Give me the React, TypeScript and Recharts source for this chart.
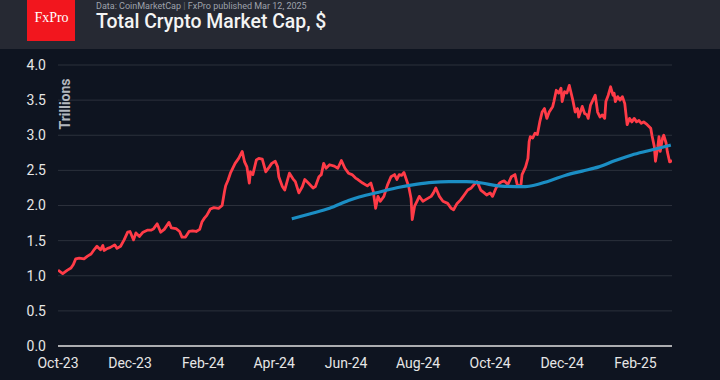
import React from 'react';
import { LineChart, Line, XAxis, YAxis, CartesianGrid } from 'recharts';

const START_DATE = '2023-10-01';

// Total crypto market cap, trillions $ (day offset from START_DATE)
const capDay = [
  0, 4, 8, 11, 13, 15, 18, 22, 25, 28,
  31, 33, 36, 38, 39, 42, 44, 48, 50, 53,
  56, 59, 61, 64, 66, 69, 72, 76, 79, 81,
  84, 87, 90, 94, 96, 100, 103, 105, 108, 111,
  114, 117, 120, 122, 124, 126, 129, 132, 136, 139,
  141, 142, 144, 146, 150, 153, 156, 158, 160, 162,
  163, 165, 168, 170, 173, 176, 179, 181, 184, 186,
  187, 190, 192, 194, 196, 199, 201, 204, 207, 209,
  212, 216, 218, 221, 223, 225, 227, 230, 234, 237,
  240, 243, 246, 249, 252, 254, 258, 262, 265, 267,
  269, 271, 273, 276, 279, 282, 285, 287, 289, 291,
  293, 295, 297, 299, 300, 302, 304, 306, 309, 311,
  316, 318, 320, 323, 326, 330, 333, 335, 338, 341,
  344, 347, 350, 352, 355, 358, 361, 363, 366, 368,
  371, 374, 376, 378, 381, 384, 387, 389, 392, 393,
  396, 398, 399, 400, 402, 404, 406, 408, 410, 412,
  414, 416, 419, 420, 422, 424, 426, 427, 429, 431,
  433, 434, 436, 438, 440, 441, 444, 446, 448, 449,
  451, 453, 455, 457, 459, 461, 463, 464, 466, 468,
  470, 471, 472, 474, 476, 478, 480, 482, 484, 486,
  488, 490, 492, 494, 496, 499, 502, 503, 505, 506,
  508, 509, 510, 512, 513, 515, 516, 518, 520,
];
const capValue = [
  1.08, 1.03, 1.08, 1.11, 1.16, 1.24, 1.25, 1.24, 1.28, 1.31,
  1.38, 1.42, 1.37, 1.43, 1.36, 1.39, 1.40, 1.44, 1.39, 1.42,
  1.51, 1.62, 1.63, 1.51, 1.61, 1.56, 1.62, 1.65, 1.65, 1.67,
  1.74, 1.62, 1.66, 1.76, 1.68, 1.67, 1.63, 1.55, 1.55, 1.63,
  1.64, 1.63, 1.66, 1.77, 1.82, 1.86, 1.95, 1.97, 1.96, 2.00,
  2.20, 2.28, 2.36, 2.46, 2.60, 2.67, 2.77, 2.62, 2.55, 2.32,
  2.48, 2.44, 2.65, 2.67, 2.66, 2.48, 2.55, 2.60, 2.63, 2.55,
  2.41, 2.27, 2.22, 2.34, 2.46, 2.38, 2.34, 2.18, 2.27, 2.37,
  2.32, 2.25, 2.27, 2.41, 2.44, 2.60, 2.53, 2.58, 2.56, 2.53,
  2.64, 2.53, 2.46, 2.44, 2.39, 2.37, 2.32, 2.28, 2.32, 2.20,
  1.96, 2.13, 2.06, 2.13, 2.29, 2.41, 2.44, 2.37, 2.44, 2.43,
  2.47, 2.37, 2.27, 2.10, 1.80, 1.99, 2.06, 2.13, 2.06, 2.08,
  2.13, 2.18, 2.25, 2.13, 2.06, 2.03, 1.96, 1.94, 2.03, 2.08,
  2.15, 2.22, 2.25, 2.29, 2.34, 2.22, 2.18, 2.15, 2.18, 2.13,
  2.25, 2.32, 2.34, 2.35, 2.30, 2.41, 2.44, 2.29, 2.28, 2.44,
  2.55, 2.67, 2.91, 2.98, 2.96, 3.03, 3.01, 3.19, 3.33, 3.38,
  3.24, 3.33, 3.41, 3.48, 3.64, 3.60, 3.67, 3.48, 3.62, 3.60,
  3.71, 3.64, 3.50, 3.33, 3.38, 3.26, 3.41, 3.31, 3.29, 3.24,
  3.43, 3.50, 3.57, 3.33, 3.26, 3.29, 3.24, 3.48, 3.57, 3.69,
  3.57, 3.60, 3.48, 3.55, 3.50, 3.55, 3.45, 3.15, 3.24, 3.19,
  3.24, 3.19, 3.21, 3.17, 3.19, 3.15, 3.10, 3.00, 2.84, 2.63,
  2.84, 2.98, 2.77, 2.96, 3.00, 2.89, 2.77, 2.62, 2.64,
];

// 200-day moving average, trillions $
const maDay = [198, 213, 230, 246, 255, 274, 289, 303, 317, 331, 346, 359, 373, 388, 396, 416, 430, 444, 458, 472, 486, 500, 519];
const maValue = [1.81, 1.88, 1.96, 2.07, 2.12, 2.20, 2.26, 2.30, 2.33, 2.34, 2.34, 2.32, 2.28, 2.27, 2.27, 2.35, 2.43, 2.49, 2.55, 2.64, 2.72, 2.78, 2.86];

const tickDates = ['2023-10-01', '2023-12-01', '2024-02-01', '2024-04-01', '2024-06-01', '2024-08-01', '2024-10-01', '2024-12-01', '2025-02-01'];
const tickLabels = ['Oct-23', 'Dec-23', 'Feb-24', 'Apr-24', 'Jun-24', 'Aug-24', 'Oct-24', 'Dec-24', 'Feb-25'];
const yTicks = [0, 0.5, 1, 1.5, 2, 2.5, 3, 3.5, 4];

const DAY_MS = 86400000;
const dayOffset = (d: string) => Math.round((Date.parse(d) - Date.parse(START_DATE)) / DAY_MS);
const xTicks = tickDates.map(dayOffset);
const capData = capDay.map((d, i) => ({ day: d, cap: capValue[i] }));
const maData = maDay.map((d, i) => ({ day: d, ma: maValue[i] }));

const FONT = 'Roboto, "Noto Sans", sans-serif';

export default function App() {
  return (
    <div style={{ position: 'fixed', left: 0, top: 0, width: 720, height: 380, background: '#0e1420', overflow: 'hidden', fontFamily: FONT }}>
      <div style={{ position: 'absolute', left: 0, top: 0, width: 720, height: 49, background: '#262933' }} />
      <div style={{ position: 'absolute', left: 27, top: 0, width: 48, height: 41, background: '#f2161e' }} />
      <div style={{ position: 'absolute', left: 27, top: 10, width: 49, textAlign: 'center', color: '#ffffff', fontFamily: '"Liberation Serif", serif', fontSize: 14, lineHeight: '16px' }}>FxPro</div>
      <div style={{ position: 'absolute', left: 96, top: 0, fontSize: 9, lineHeight: '12px', color: '#9ea2ab', whiteSpace: 'nowrap' }}>
        Data: CoinMarketCap <span style={{ color: '#6a6e77' }}>|</span> FxPro published Mar 12, 2025
      </div>
      <div style={{ position: 'absolute', left: 96, top: 11.3, fontSize: 19.4, lineHeight: '22px', fontWeight: 500, color: '#f4f4f4', whiteSpace: 'nowrap' }}>
        Total Crypto Market Cap, $
      </div>
      <div style={{ position: 'absolute', left: 0, top: 0 }}>
        <LineChart width={720} height={380} margin={{ top: 65, right: 48, bottom: 4, left: 0 }}>
          <CartesianGrid vertical={false} stroke="#2b303b" strokeWidth={1} />
          <XAxis
            dataKey="day"
            type="number"
            domain={[0, 520]}
            ticks={xTicks}
            tickFormatter={(v: number) => tickLabels[xTicks.indexOf(v)] ?? ''}
            tickLine={false}
            tickMargin={6}
            height={30}
            axisLine={{ stroke: '#dcdcdc', strokeWidth: 1.5 }}
            tick={{ fill: '#e6e6e6', fontSize: 14, fontFamily: FONT }}
            allowDataOverflow
            interval={0}
          />
          <YAxis
            type="number"
            domain={[0, 4]}
            ticks={yTicks}
            tickFormatter={(v: number) => v.toFixed(1)}
            width={58}
            tickLine={false}
            axisLine={false}
            tickMargin={6}
            tick={{ fill: '#e6e6e6', fontSize: 14, fontFamily: FONT }}
            interval={0}
          />
          <Line data={capData} dataKey="cap" type="linear" stroke="#ff3b47" strokeWidth={2.8} dot={false} isAnimationActive={false} strokeLinejoin="round" />
          <Line data={maData} dataKey="ma" type="monotone" stroke="#1b8ec4" strokeWidth={3.2} dot={false} isAnimationActive={false} />
        </LineChart>
      </div>
      <svg width={720} height={380} style={{ position: 'absolute', left: 0, top: 0, pointerEvents: 'none' }}>
        <text x={70} y={104} transform="rotate(-90 70 104)" textAnchor="middle" fontFamily={FONT} fontSize={14} fontWeight={700} fill="#b3b7be">Trillions</text>
      </svg>
    </div>
  );
}
